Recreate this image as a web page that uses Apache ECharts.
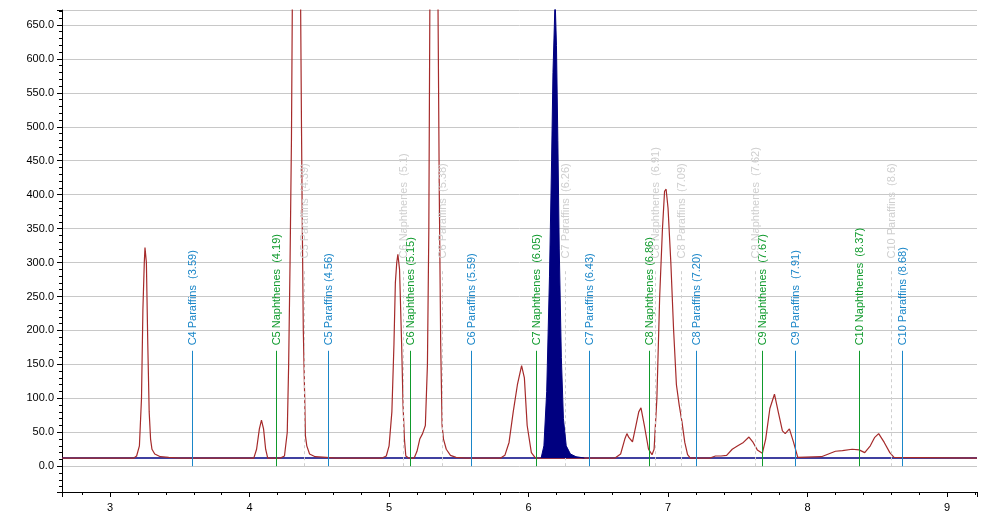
<!DOCTYPE html>
<html><head><meta charset="utf-8">
<script src="https://cdn.jsdelivr.net/npm/echarts@6/dist/echarts.min.js"></script>
<style>html,body{margin:0;padding:0;background:#fff}#c{width:1005px;height:526px}</style>
</head><body><div id="c"></div>
<script>
// Chromatogram trace segments [time, signal]
const segC4 = [[2.655,12],[3.17,12],[3.19,15],[3.21,30],[3.225,100],[3.235,230],[3.245,300],[3.25,322],[3.26,300],[3.27,180],[3.28,80],[3.29,40],[3.30,25],[3.32,18],[3.36,14],[3.42,13],[3.5,12]];
const segC5 = [[4.03,12],[4.05,25],[4.07,55],[4.085,68],[4.10,55],[4.115,25],[4.13,12],
 [4.22,12],[4.25,15],[4.27,50],[4.28,150],[4.29,300],[4.30,480],[4.31,800],[4.33,1000],[4.355,1000],[4.365,700],[4.372,500],[4.378,350],[4.385,200],[4.395,100],[4.40,45],[4.41,30],[4.43,18],[4.47,14],[4.55,13],[4.62,12]];
const segC6 = [[4.95,12],[4.98,15],[5.00,30],[5.02,80],[5.035,180],[5.045,270],[5.055,300],[5.063,312],[5.075,290],[5.09,180],[5.10,90],[5.11,40],[5.12,15],[5.14,12],
 [5.18,12],[5.20,22],[5.22,40],[5.24,48],[5.26,60],[5.275,150],[5.285,350],[5.295,800],[5.30,1000],[5.335,1000],[5.35,700],[5.36,400],[5.37,180],[5.38,60],[5.39,40],[5.41,25],[5.44,16],[5.48,13],[5.55,12]];
const segC7 = [[5.80,12],[5.83,16],[5.86,35],[5.89,80],[5.92,120],[5.95,148],[5.97,130],[5.99,60],[6.02,20],[6.05,12],[6.62,12]];
const segC8 = [[6.62,12],[6.66,18],[6.69,40],[6.705,48],[6.72,42],[6.745,36],[6.77,60],[6.79,80],[6.806,86],[6.83,60],[6.86,25],[6.885,17],[6.90,25],[6.92,100],[6.94,250],[6.96,350],[6.975,405],[6.986,408],[7.00,380],[7.02,300],[7.04,200],[7.06,120],[7.08,90],[7.10,65],[7.12,35],[7.14,17],[7.16,12]];
const segC9 = [[7.30,12],[7.34,15],[7.38,15],[7.42,16],[7.46,25],[7.50,30],[7.54,35],[7.58,43],[7.61,35],[7.64,24],[7.676,19],[7.70,40],[7.73,85],[7.763,106],[7.79,80],[7.82,52],[7.84,48],[7.87,55],[7.90,35],[7.93,13]];
const segC10 = [[8.10,14],[8.20,22],[8.25,23],[8.32,25],[8.37,24],[8.41,20],[8.45,30],[8.48,42],[8.51,48],[8.55,35],[8.59,20],[8.62,13],[9.215,12]];
// Integrated (filled) peak
const segFill = [[6.09,12],[6.11,30],[6.13,110],[6.15,280],[6.165,450],[6.175,580],[6.185,650],[6.19,690],[6.20,620],[6.21,480],[6.22,320],[6.235,160],[6.25,70],[6.27,30],[6.30,18],[6.34,14],[6.40,12]];
// Component markers
const markTimes = [3.59,4.19,4.56,5.15,5.59,6.05,6.43,6.86,7.20,7.67,7.91,8.37,8.68];
const markNames = ['C4 Paraffins  (3.59)','C5 Naphthenes  (4.19)','C5 Paraffins (4.56)','C6 Naphthenes (5.15)','C6 Paraffins (5.59)','C7 Naphthenes  (6.05)','C7 Paraffins (6.43)','C8 Naphthenes (6.86)','C8 Paraffins (7.20)','C9 Naphthenes  (7.67)','C9 Paraffins  (7.91)','C10 Naphthenes  (8.37)','C10 Paraffins (8.68)'];
const markKinds = ['P','N','P','N','P','N','P','N','P','N','P','N','P'];
const expTimes = [4.39,5.1,5.38,6.26,6.91,7.09,7.62,8.6];
const expNames = ['C5 Paraffins  (4.39)','C6 Naphthenes  (5.1)','C6 Paraffins  (5.38)','C7 Paraffins  (6.26)','C8 Naphthenes  (6.91)','C8 Paraffins  (7.09)','C9 Naphthenes  (7.62)','C10 Paraffins  (8.6)'];

const trace=[].concat(segC4,segC5,segC6,segC7,segC8,segC9,segC10);
const cP='#1a86c8', cN='#0f9a2c', cG='#cfcfcf';
// marker rows: [time, lineTop, labelBase, kind(0=P,1=N,2=expected), name]
const markRows=[];
markTimes.forEach((t,i)=>markRows.push([t,170,178,markKinds[i]==='P'?0:1,markNames[i]]));
expTimes.forEach((t,i)=>markRows.push([t,291,306,2,expNames[i]]));
const cols=[cP,cN,cG];
function renderMarker(params,api){
  const t=api.value(0), kind=api.value(3);
  const p0=api.coord([t,0]), p1=api.coord([t,api.value(1)]), pl=api.coord([t,api.value(2)]);
  const x=Math.round(p0[0])+0.5, c=cols[kind];
  return {type:'group',children:[
    {type:'line',shape:{x1:x,y1:p0[1],x2:x,y2:p1[1]},style:{stroke:c,lineWidth:1,lineDash:kind===2?[3,3]:null}},
    {type:'text',x:x,y:pl[1],rotation:Math.PI/2,style:{text:markRows[params.dataIndex][4],fill:c,font:'11px "Liberation Sans"',align:'left',verticalAlign:'middle'}}
  ]};
}
const chart=echarts.init(document.getElementById('c'));
chart.setOption({
 animation:false,
 grid:{left:62,right:28,top:10,bottom:34},
 xAxis:{type:'value',min:2.655,max:9.215,splitNumber:7,
  axisLine:{onZero:false,lineStyle:{color:'#000'}},axisTick:{show:true,length:5,lineStyle:{color:'#000'}},
  minorTick:{show:true,splitNumber:5,length:3,lineStyle:{color:'#000'}},
  axisLabel:{showMinLabel:false,showMaxLabel:false,color:'#000',fontSize:11,fontFamily:'Liberation Sans',margin:10},
  splitLine:{show:false}},
 yAxis:{type:'value',min:-38,max:672,splitNumber:14,
  axisLine:{show:true,lineStyle:{color:'#000'}},axisTick:{show:true,length:5,lineStyle:{color:'#000'}},
  minorTick:{show:true,splitNumber:5,length:3,lineStyle:{color:'#000'}},
  axisLabel:{showMinLabel:false,showMaxLabel:false,color:'#000',fontSize:11,fontFamily:'Liberation Sans',formatter:v=>v.toFixed(1)},
  splitLine:{show:true,lineStyle:{color:'#c8c8c8'}}},
 series:[
  {type:'line',data:[[2.655,12],[9.215,12]],symbol:'none',lineStyle:{color:'#000080',width:1.5},silent:true,z:2},
  {type:'line',data:trace,symbol:'none',lineStyle:{color:'#a52a2a',width:1.2},z:3},
  {type:'custom',data:markRows.map(r=>r.slice(0,4)),renderItem:renderMarker,silent:true,z:4},
  {type:'line',data:segFill,symbol:'none',lineStyle:{color:'#000080',width:1},areaStyle:{color:'#000080',opacity:1,origin:12},z:5}
 ]
});
</script></body></html>
